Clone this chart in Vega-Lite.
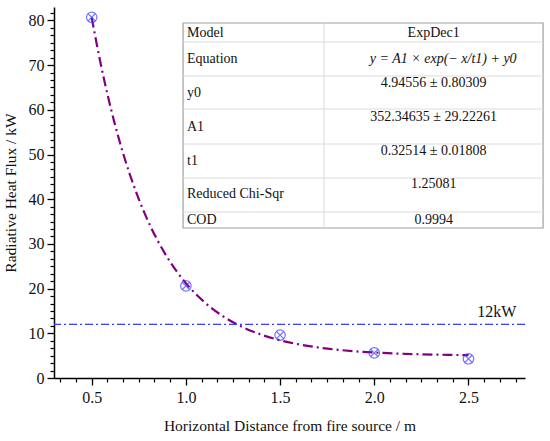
{
  "$schema": "https://vega.github.io/schema/vega-lite/v6.json",
  "width": 471,
  "height": 371,
  "autosize": {"type": "none"},
  "padding": {"left": 54, "top": 7, "right": 25, "bottom": 63},
  "background": "white",
  "data": {"values": [{}]},
  "config": {
    "view": {"stroke": null},
    "font": "Liberation Serif, Times New Roman, serif",
    "axis": {
      "domainColor": "#000000",
      "tickColor": "#000000",
      "labelColor": "#111111",
      "titleColor": "#111111",
      "grid": false
    }
  },
  "datasets": {
    "measured": [
      {"distance": 0.5, "flux": 80.7},
      {"distance": 1.0, "flux": 20.6},
      {"distance": 1.5, "flux": 9.6},
      {"distance": 2.0, "flux": 5.6},
      {"distance": 2.5, "flux": 4.3}
    ],
    "fit": [
      {"distance": 0.5, "flux": 80.64},
      {"distance": 0.55, "flux": 69.86},
      {"distance": 0.6, "flux": 60.61},
      {"distance": 0.65, "flux": 52.67},
      {"distance": 0.7, "flux": 45.86},
      {"distance": 0.75, "flux": 40.04},
      {"distance": 0.8, "flux": 35.03},
      {"distance": 0.85, "flux": 30.75},
      {"distance": 0.9, "flux": 27.07},
      {"distance": 1.0, "flux": 21.21},
      {"distance": 1.1, "flux": 16.91},
      {"distance": 1.2, "flux": 13.74},
      {"distance": 1.3, "flux": 11.41},
      {"distance": 1.4, "flux": 9.7},
      {"distance": 1.5, "flux": 8.44},
      {"distance": 1.6, "flux": 7.52},
      {"distance": 1.7, "flux": 6.84},
      {"distance": 1.8, "flux": 6.33},
      {"distance": 1.9, "flux": 5.97},
      {"distance": 2.0, "flux": 5.7},
      {"distance": 2.2, "flux": 5.35},
      {"distance": 2.4, "flux": 5.17},
      {"distance": 2.5, "flux": 5.11}
    ],
    "table": [
      {"name": "Model", "value": "ExpDec1", "name_y": 77.18, "value_y": 77.18},
      {"name": "y0", "value": "4.94556 ± 0.80309", "name_y": 63.7, "value_y": 65.9},
      {"name": "A1", "value": "352.34635 ± 29.22261", "name_y": 56.1, "value_y": 58.5},
      {"name": "t1", "value": "0.32514 ± 0.01808", "name_y": 48.6, "value_y": 50.85},
      {"name": "Reduced Chi-Sqr", "value": "1.25081", "name_y": 41.2, "value_y": 43.3},
      {"name": "COD", "value": "0.9994", "name_y": 35.3, "value_y": 35.3}
    ],
    "row_lines": [
      {"y": 75.17}, {"y": 67.56}, {"y": 60.18}, {"y": 52.35}, {"y": 44.74}, {"y": 37.14}
    ]
  },
  "resolve": {"axis": {"x": "independent", "y": "independent"}},
  "layer": [
    {
      "data": {"name": "fit"},
      "mark": {"type": "line", "color": "#800080", "strokeWidth": 2.2, "strokeDash": [10, 4, 2, 4], "interpolate": "monotone"},
      "encoding": {
        "x": {
          "field": "distance", "type": "quantitative",
          "scale": {"domain": [0.3, 2.8], "nice": false, "zero": false},
          "axis": {
            "orient": "bottom",
            "values": [0.5, 1.0, 1.5, 2.0, 2.5],
            "format": ".1f",
            "tickSize": 7, "tickWidth": 1.3, "domainWidth": 1.5,
            "labelFont": "Liberation Serif", "labelFontSize": 16, "labelPadding": 4,
            "title": "Horizontal Distance from fire source / m",
            "titleFont": "Liberation Serif", "titleFontSize": 15.5, "titleFontWeight": "normal", "titlePadding": 13
          }
        },
        "y": {
          "field": "flux", "type": "quantitative",
          "scale": {"domain": [0, 83], "nice": false},
          "axis": {
            "orient": "left",
            "values": [0, 10, 20, 30, 40, 50, 60, 70, 80],
            "format": "d",
            "tickSize": 7, "tickWidth": 1.3, "domainWidth": 1.5,
            "labelFont": "Liberation Serif", "labelFontSize": 16, "labelPadding": 3,
            "title": "Radiative Heat Flux / kW",
            "titleFont": "Liberation Serif", "titleFontSize": 15.5, "titleFontWeight": "normal", "titlePadding": 10
          }
        }
      }
    },
    {
      "data": {"name": "measured"},
      "mark": {"type": "point", "shape": "circle", "size": 110, "filled": false, "color": "#3a3aff", "strokeWidth": 1.2},
      "encoding": {
        "x": {
          "field": "distance", "type": "quantitative",
          "axis": {
            "orient": "bottom",
            "values": [0.3333, 0.4167, 0.5833, 0.6667, 0.75, 0.8333, 0.9167, 1.0833, 1.1667, 1.25, 1.3333, 1.4167, 1.5833, 1.6667, 1.75, 1.8333, 1.9167, 2.0833, 2.1667, 2.25, 2.3333, 2.4167, 2.5833, 2.6667, 2.75],
            "labels": false, "domain": false, "tickSize": 4, "tickWidth": 1.2, "title": null
          }
        },
        "y": {
          "field": "flux", "type": "quantitative",
          "axis": {
            "orient": "left",
            "values": [1.6667, 3.3333, 5, 6.6667, 8.3333, 11.6667, 13.3333, 15, 16.6667, 18.3333, 21.6667, 23.3333, 25, 26.6667, 28.3333, 31.6667, 33.3333, 35, 36.6667, 38.3333, 41.6667, 43.3333, 45, 46.6667, 48.3333, 51.6667, 53.3333, 55, 56.6667, 58.3333, 61.6667, 63.3333, 65, 66.6667, 68.3333, 71.6667, 73.3333, 75, 76.6667, 78.3333, 81.6667],
            "labels": false, "domain": false, "tickSize": 4, "tickWidth": 1.2, "title": null
          }
        }
      }
    },
    {
      "data": {"name": "measured"},
      "mark": {"type": "point", "shape": "M-0.68,-0.68L0.68,0.68M-0.68,0.68L0.68,-0.68", "size": 110, "filled": false, "color": "#3a3aff", "strokeWidth": 1.2},
      "encoding": {
        "x": {"field": "distance", "type": "quantitative", "axis": null},
        "y": {"field": "flux", "type": "quantitative", "axis": null}
      }
    },
    {
      "mark": {"type": "rule", "color": "#3a3aff", "strokeWidth": 1.4, "strokeDash": [8, 3, 2, 3]},
      "encoding": {
        "y": {"datum": 12, "type": "quantitative", "axis": null}
      }
    },
    {
      "mark": {"type": "text", "fontSize": 16, "color": "#111111", "align": "center", "baseline": "middle"},
      "encoding": {
        "x": {"datum": 2.65, "type": "quantitative", "axis": null},
        "y": {"datum": 14.8, "type": "quantitative", "axis": null},
        "text": {"value": "12kW"}
      }
    },
    {
      "mark": {"type": "rect", "fill": "white", "stroke": "#a0a0a0", "strokeWidth": 1.2},
      "encoding": {
        "x": {"datum": 0.985, "type": "quantitative", "axis": null},
        "x2": {"datum": 2.896},
        "y": {"datum": 33.56, "type": "quantitative", "axis": null},
        "y2": {"datum": 79.42}
      }
    },
    {
      "data": {"name": "row_lines"},
      "mark": {"type": "rule", "color": "#dcdcdc", "strokeWidth": 1},
      "encoding": {
        "x": {"datum": 0.985, "type": "quantitative", "axis": null},
        "x2": {"datum": 2.896},
        "y": {"field": "y", "type": "quantitative", "axis": null}
      }
    },
    {
      "mark": {"type": "rule", "color": "#dcdcdc", "strokeWidth": 1},
      "encoding": {
        "x": {"datum": 1.733, "type": "quantitative", "axis": null},
        "y": {"datum": 33.56, "type": "quantitative", "axis": null},
        "y2": {"datum": 79.42}
      }
    },
    {
      "data": {"name": "table"},
      "mark": {"type": "text", "fontSize": 14, "color": "#111111", "align": "left", "baseline": "middle"},
      "encoding": {
        "x": {"datum": 1.006, "type": "quantitative", "axis": null},
        "y": {"field": "name_y", "type": "quantitative", "axis": null},
        "text": {"field": "name"}
      }
    },
    {
      "data": {"name": "table"},
      "mark": {"type": "text", "fontSize": 14, "color": "#111111", "align": "center", "baseline": "middle"},
      "encoding": {
        "x": {"datum": 2.315, "type": "quantitative", "axis": null},
        "y": {"field": "value_y", "type": "quantitative", "axis": null},
        "text": {"field": "value"}
      }
    },
    {
      "mark": {"type": "text", "fontSize": 14, "color": "#111111", "align": "left", "baseline": "middle"},
      "encoding": {
        "x": {"datum": 1.006, "type": "quantitative", "axis": null},
        "y": {"datum": 71.3, "type": "quantitative", "axis": null},
        "text": {"value": "Equation"}
      }
    },
    {
      "mark": {"type": "text", "fontSize": 14, "fontStyle": "italic", "color": "#111111", "align": "center", "baseline": "middle"},
      "encoding": {
        "x": {"datum": 2.366, "type": "quantitative", "axis": null},
        "y": {"datum": 71.3, "type": "quantitative", "axis": null},
        "text": {"value": "y = A1 × exp(− x/t1) + y0"}
      }
    }
  ]
}
